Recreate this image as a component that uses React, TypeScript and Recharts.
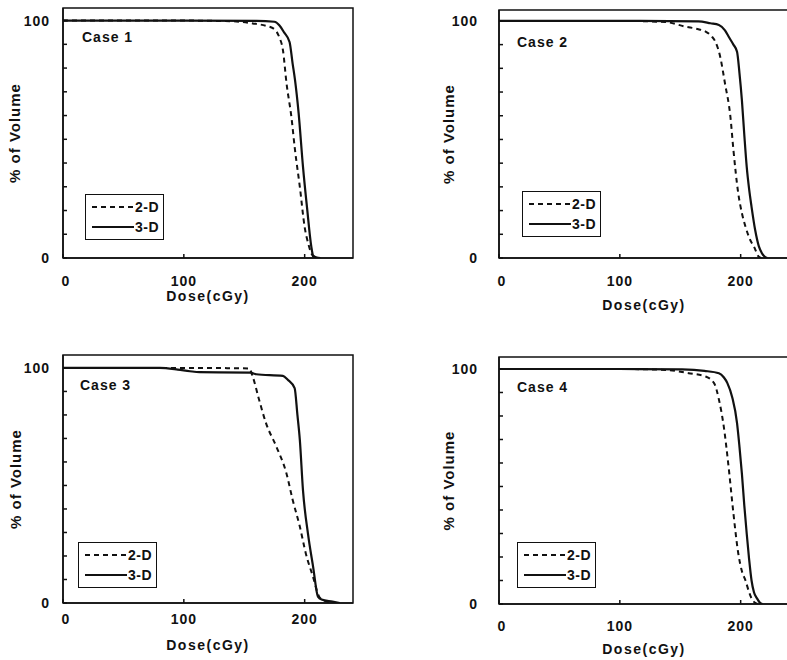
import React from 'react';
import { LineChart, Line, XAxis, YAxis, ReferenceArea, Legend } from 'recharts';

const FONT = '"Liberation Sans", Arial, sans-serif';
const INK = '#111';

const CASE_TITLES = ['Case 1', 'Case 2', 'Case 3', 'Case 4'];
const SERIES_2D = '2-D';
const SERIES_3D = '3-D';
const X_TICKS = [0, 100, 200];
const Y_TICKS = [0, 10, 20, 30, 40, 50, 60, 70, 80, 90, 100];
const Y_LABELED = [0, 100];

// Case 1
const CASE1_2D_DOSE = [0, 100, 140, 157, 168, 174, 179, 182, 185, 189, 192, 196, 200, 203, 205.5, 208, 212];
const CASE1_2D_VOL = [100, 100, 99.7, 98.8, 97.8, 96.7, 93, 87.6, 73.5, 59.5, 45.5, 30, 13, 6, 2, 0.3, 0];
const CASE1_3D_DOSE = [0, 100, 160, 175, 179, 183, 187.5, 190, 192, 195, 198.6, 202, 205.5, 207, 210, 213];
const CASE1_3D_VOL = [100, 100, 99.9, 99.5, 98, 95, 91, 82, 75, 61, 38.5, 21, 4.8, 1, 0.2, 0];

// Case 2
const CASE2_2D_DOSE = [0, 100, 138, 154, 165, 171, 176, 179, 183, 187, 191.5, 194, 198, 201, 204, 208, 211, 215, 217];
const CASE2_2D_VOL = [100, 100, 99.5, 97.6, 96.5, 95.5, 93.5, 91.3, 85, 73.7, 59.6, 45.6, 27.3, 19, 13.2, 7.5, 4.8, 0.5, 0];
const CASE2_3D_DOSE = [0, 100, 165, 175, 182, 187, 190, 194, 197, 199, 201, 203, 205, 207, 209, 212, 215, 217.6, 220, 222];
const CASE2_3D_VOL = [100, 100, 99.8, 99, 98.3, 96, 93.4, 90, 87, 78, 66.7, 52, 38.5, 29, 21.6, 11.8, 5, 2, 0.5, 0];

// Case 3
const CASE3_2D_DOSE = [0, 100, 154, 157, 162, 168, 176.6, 185, 190, 196, 201, 207, 212, 216, 225];
const CASE3_2D_VOL = [100, 100, 99.8, 96.3, 87, 76.5, 66.5, 55, 44, 32.5, 21, 11, 2.7, 1, 0];
const CASE3_3D_DOSE = [0, 80, 95, 105, 113, 155, 160, 182, 186, 191.7, 194, 196, 198.6, 202.7, 207, 211, 214, 223, 229];
const CASE3_3D_VOL = [100, 100, 99.3, 98.6, 98.2, 98, 97.3, 96.6, 95, 91.4, 80, 69.4, 48, 29.6, 15.4, 2.7, 1.5, 0.6, 0];

// Case 4
const CASE4_2D_DOSE = [0, 100, 138, 157, 171, 178, 182, 186, 190, 194, 198, 201, 204, 207, 209, 212, 214];
const CASE4_2D_VOL = [100, 100, 99.6, 98.2, 96.8, 94, 87, 75.6, 58.4, 38.6, 21.6, 14, 10, 5, 2.4, 0.5, 0];
const CASE4_3D_DOSE = [0, 100, 151.6, 170, 182, 186, 189, 193, 197, 199, 201, 203, 205, 207, 209, 211, 213.5, 216, 218];
const CASE4_3D_VOL = [100, 100, 99.8, 99.2, 98.2, 96.5, 94, 88, 77, 67, 55.6, 42, 30, 19, 10, 5, 2.4, 0.5, 0];

const toPoints = (dose: number[], vol: number[]) => dose.map((d, i) => ({ dose: d, vol: vol[i] }));

const CASE_DATA = [
  { d2: toPoints(CASE1_2D_DOSE, CASE1_2D_VOL), d3: toPoints(CASE1_3D_DOSE, CASE1_3D_VOL) },
  { d2: toPoints(CASE2_2D_DOSE, CASE2_2D_VOL), d3: toPoints(CASE2_3D_DOSE, CASE2_3D_VOL) },
  { d2: toPoints(CASE3_2D_DOSE, CASE3_2D_VOL), d3: toPoints(CASE3_3D_DOSE, CASE3_3D_VOL) },
  { d2: toPoints(CASE4_2D_DOSE, CASE4_2D_VOL), d3: toPoints(CASE4_3D_DOSE, CASE4_3D_VOL) },
];

// layout of each panel on the page
const PANELS = [
  { left: 0, top: 0, marginTop: 8, xAxisHeight: 62, yMax: 105.3, yTickMargin: 13, yLabelDx: -16.5, xTickMargin: 18, xLabelDy: 7, legendLeft: 85, legendTop: 194, titleX: 82, titleY: 37 },
  { left: 436, top: 0, marginTop: 10, xAxisHeight: 62, yMax: 104.6, yTickMargin: 21, yLabelDx: -18.5, xTickMargin: 18, xLabelDy: 16, legendLeft: 86, legendTop: 191, titleX: 81, titleY: 42 },
  { left: 0, top: 340, marginTop: 15, xAxisHeight: 57, yMax: 105.5, yTickMargin: 13, yLabelDx: -15.5, xTickMargin: 11.5, xLabelDy: 14, legendLeft: 78, legendTop: 202, titleX: 80, titleY: 45 },
  { left: 436, top: 340, marginTop: 17, xAxisHeight: 56, yMax: 105.1, yTickMargin: 21, yLabelDx: -18.5, xTickMargin: 17.5, xLabelDy: 17, legendLeft: 81, legendTop: 202, titleX: 81, titleY: 47 },
];

const CHART_W = 371;
const CHART_H = 320;
const TICK_LEN = 4;

const tickText = { fill: INK, fontSize: 14, fontWeight: 'bold', fontFamily: FONT, letterSpacing: 1 } as const;

// y tick: short inner mark on the axis plus a label only at 0 and 100
function YTick({ x, y, payload, gap }: any) {
  const axisX = x + gap;
  return (
    <g>
      <line x1={axisX} x2={axisX + TICK_LEN} y1={y} y2={y} stroke={INK} strokeWidth={1.5} />
      {Y_LABELED.includes(payload.value) && (
        <text x={x} y={y} textAnchor="end" dominantBaseline="central" {...tickText}>
          {payload.value}
        </text>
      )}
    </g>
  );
}

function XTick({ x, y, payload, gap }: any) {
  const axisY = y - gap;
  return (
    <g>
      <line x1={x} x2={x} y1={axisY} y2={axisY - TICK_LEN} stroke={INK} strokeWidth={1.5} />
      <text x={x + (payload.value === 0 ? 3 : 0)} y={y} textAnchor="middle" dy="0.71em" {...tickText}>
        {payload.value}
      </text>
    </g>
  );
}

function LegendBox({ payload }: any) {
  return (
    <div
      style={{
        border: `1.5px solid ${INK}`,
        background: '#fff',
        padding: '2px 4px 2px 6px',
        fontFamily: FONT,
        fontWeight: 'bold',
        fontSize: 14,
        color: INK,
        letterSpacing: 0.5,
      }}
    >
      {(payload || []).map((entry: any) => (
        <div key={entry.value} style={{ display: 'flex', alignItems: 'center', height: 20 }}>
          <svg width={42} height={10}>
            <line
              x1={0}
              x2={42}
              y1={5}
              y2={5}
              stroke={INK}
              strokeWidth={2.2}
              strokeDasharray={entry.payload?.strokeDasharray}
            />
          </svg>
          <span style={{ marginLeft: 1 }}>{entry.value}</span>
        </div>
      ))}
    </div>
  );
}

function DosePanel({ idx }: { idx: number }) {
  const p = PANELS[idx];
  const data = CASE_DATA[idx];
  return (
    <div style={{ position: 'absolute', left: p.left, top: p.top }}>
      <LineChart width={CHART_W} height={CHART_H} margin={{ top: p.marginTop, right: 18, left: 0, bottom: 0 }}>
        <XAxis
          dataKey="dose"
          type="number"
          domain={[0, 240]}
          ticks={X_TICKS}
          interval={0}
          height={p.xAxisHeight}
          allowDataOverflow
          stroke={INK}
          axisLine={{ stroke: INK, strokeWidth: 1.5 }}
          tickLine={false}
          tickSize={0}
          tickMargin={p.xTickMargin}
          tick={(props: any) => <XTick {...props} gap={p.xTickMargin} />}
          label={{
            value: 'Dose(cGy)',
            position: 'center',
            dy: p.xLabelDy,
            fill: INK,
            fontSize: 14,
            fontWeight: 'bold',
            fontFamily: FONT,
            letterSpacing: 1.5,
          }}
        />
        <YAxis
          type="number"
          domain={[0, p.yMax]}
          ticks={Y_TICKS}
          interval={0}
          width={63}
          allowDataOverflow
          stroke={INK}
          axisLine={{ stroke: INK, strokeWidth: 1.5 }}
          tickLine={false}
          tickSize={0}
          tickMargin={p.yTickMargin}
          tick={(props: any) => <YTick {...props} gap={p.yTickMargin} />}
          label={{
            value: '% of Volume',
            angle: -90,
            position: 'center',
            dx: p.yLabelDx,
            fill: INK,
            fontSize: 15,
            fontWeight: 'bold',
            fontFamily: FONT,
            letterSpacing: 1,
          }}
        />
        <ReferenceArea
          x1={0}
          x2={240}
          y1={0}
          y2={p.yMax}
          fill="none"
          stroke={INK}
          strokeWidth={1.5}
          ifOverflow="visible"
        />
        <Line
          data={data.d2}
          dataKey="vol"
          name={SERIES_2D}
          type="monotoneX"
          stroke={INK}
          strokeWidth={2}
          strokeDasharray="5 4"
          dot={false}
          legendType="plainline"
          isAnimationActive={false}
        />
        <Line
          data={data.d3}
          dataKey="vol"
          name={SERIES_3D}
          type="monotoneX"
          stroke={INK}
          strokeWidth={2.2}
          dot={false}
          legendType="plainline"
          isAnimationActive={false}
        />
        <Legend
          layout="vertical"
          align="center"
          verticalAlign="middle"
          content={LegendBox}
          wrapperStyle={{ left: p.legendLeft, top: p.legendTop, width: 'auto' }}
        />
        <text
          x={p.titleX}
          y={p.titleY}
          dominantBaseline="central"
          fill={INK}
          fontFamily={FONT}
          fontWeight="bold"
          fontSize={14}
          letterSpacing={1}
        >
          {CASE_TITLES[idx]}
        </text>
      </LineChart>
    </div>
  );
}

export default function App() {
  return (
    <div
      style={{
        position: 'fixed',
        left: 0,
        top: 0,
        width: 787,
        height: 660,
        overflow: 'hidden',
        background: '#fff',
      }}
    >
      {PANELS.map((_, i) => (
        <DosePanel key={i} idx={i} />
      ))}
    </div>
  );
}
